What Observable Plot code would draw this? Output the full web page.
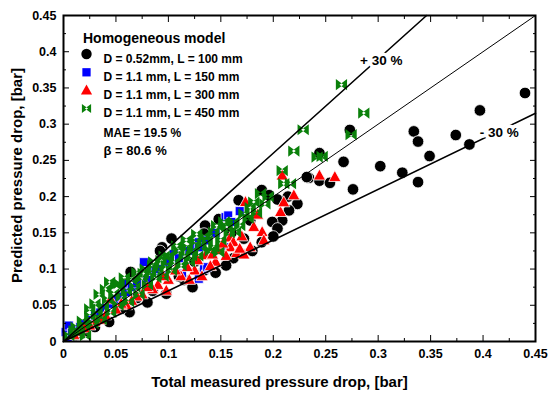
<!DOCTYPE html>
<html>
<head>
<meta charset="utf-8">
<script src="https://cdn.jsdelivr.net/npm/d3@7"></script>
<script src="https://cdn.jsdelivr.net/npm/@observablehq/plot@0.6"></script>
<style>
  html, body { margin: 0; padding: 0; background: #fff; }
  #chart { width: 550px; height: 396px; }
</style>
</head>
<body>
<div id="chart"></div>
<script>
// ---------- data ----------
const seriesNames = [
  "D = 0.52mm, L = 100 mm",
  "D = 1.1 mm, L = 150 mm",
  "D = 1.1 mm, L = 300 mm",
  "D = 1.1 mm, L = 450 mm"
];
const seriesColors = ["#000000", "#0000ff", "#ff0000", "#0a800a"];

const d052_L100 = [
  [0.440,0.343],[0.397,0.319],[0.374,0.285],[0.387,0.272],[0.334,0.290],[0.338,0.276],
  [0.349,0.256],[0.323,0.233],[0.338,0.220],[0.302,0.242],[0.273,0.292],[0.267,0.248],
  [0.276,0.210],[0.244,0.260],[0.234,0.226],[0.244,0.222],[0.254,0.219],[0.232,0.227],
  [0.223,0.190],[0.215,0.181],[0.2085,0.167],[0.199,0.165],[0.204,0.156],[0.189,0.137],
  [0.172,0.142],[0.167,0.195],[0.189,0.209],[0.196,0.202],[0.204,0.196],[0.178,0.167],
  [0.135,0.160],[0.134,0.149],[0.162,0.115],[0.148,0.169],[0.103,0.142],[0.094,0.130],
  [0.092,0.125],[0.123,0.075],[0.134,0.098],[0.098,0.066],[0.080,0.054],[0.063,0.0405],
  [0.0435,0.027],[0.064,0.096],[0.115,0.085],[0.155,0.105],[0.145,0.095],[0.030,0.020],
  [0.020,0.014],[0.012,0.009],[0.055,0.045],[0.070,0.060],[0.085,0.070],[0.110,0.090],
  [0.125,0.110],[0.180,0.125],[0.200,0.145],[0.214,0.200],[0.160,0.150]
];
const d11_L150 = [
  [0.002,0.013],[0.004,0.006],[0.005,0.022],[0.008,0.012],[0.012,0.016],[0.016,0.020],
  [0.020,0.024],[0.025,0.030],[0.030,0.036],[0.035,0.040],[0.040,0.046],[0.045,0.052],
  [0.050,0.058],[0.055,0.062],[0.060,0.068],[0.059,0.080],[0.065,0.075],[0.070,0.080],
  [0.0766,0.1095],[0.0877,0.098],[0.090,0.100],[0.100,0.110],[0.105,0.121],[0.113,0.0935],
  [0.120,0.125],[0.129,0.0866],[0.134,0.100],[0.129,0.137],[0.137,0.1395],[0.137,0.1026],
  [0.145,0.150],[0.1545,0.1717],[0.157,0.174],[0.156,0.130],[0.160,0.165],[0.110,0.115],
  [0.095,0.090],[0.080,0.085],[0.125,0.130],[0.168,0.180],[0.129,0.130]
];
const d11_L300 = [
  [0.2587,0.227],[0.244,0.229],[0.2085,0.229],[0.2196,0.2017],[0.1735,0.1924],[0.2069,0.1786],
  [0.1814,0.158],[0.1894,0.151],[0.191,0.1395],[0.159,0.1436],[0.162,0.137],[0.159,0.130],
  [0.165,0.122],[0.150,0.126],[0.155,0.118],[0.145,0.110],[0.1354,0.119],[0.140,0.104],
  [0.128,0.112],[0.125,0.098],[0.118,0.1026],[0.112,0.090],[0.1068,0.098],[0.100,0.085],
  [0.095,0.090],[0.090,0.078],[0.085,0.072],[0.0798,0.075],[0.075,0.065],[0.070,0.062],
  [0.065,0.056],[0.060,0.050],[0.055,0.052],[0.050,0.044],[0.045,0.058],[0.040,0.036],
  [0.035,0.030],[0.030,0.027],[0.025,0.022],[0.020,0.018],[0.015,0.013],[0.010,0.009],
  [0.170,0.145],[0.178,0.130],[0.132,0.090],[0.120,0.085],[0.098,0.070],[0.210,0.192],
  [0.185,0.175],[0.172,0.120],[0.152,0.135],[0.142,0.120],[0.168,0.128]
];
const d11_L450 = [
  [0.005,0.008],[0.010,0.015],[0.012,0.020],[0.015,0.012],[0.018,0.028],[0.020,0.022],
  [0.021,0.008],[0.025,0.035],[0.025,0.045],[0.028,0.025],[0.030,0.052],[0.032,0.038],
  [0.034,0.065],[0.036,0.030],[0.038,0.048],[0.040,0.072],[0.042,0.058],[0.044,0.082],
  [0.045,0.040],[0.048,0.066],[0.050,0.078],[0.052,0.050],[0.053,0.080],[0.055,0.062],
  [0.058,0.088],[0.060,0.070],[0.062,0.055],[0.065,0.085],[0.068,0.075],[0.070,0.095],
  [0.072,0.065],[0.075,0.088],[0.078,0.100],[0.080,0.078],[0.083,0.095],[0.085,0.105],
  [0.088,0.088],[0.090,0.100],[0.093,0.112],[0.095,0.090],[0.098,0.105],[0.100,0.118],
  [0.103,0.098],[0.106,0.110],[0.110,0.125],[0.112,0.105],[0.115,0.118],[0.118,0.130],
  [0.120,0.110],[0.123,0.125],[0.126,0.138],[0.128,0.118],[0.131,0.130],[0.134,0.145],
  [0.137,0.1395],[0.140,0.125],[0.1433,0.151],[0.1433,0.130],[0.148,0.1234],[0.150,0.140],
  [0.1528,0.165],[0.158,0.150],[0.1624,0.165],[0.164,0.151],[0.168,0.160],[0.172,0.1763],
  [0.176,0.170],[0.1814,0.1924],[0.1878,0.204],[0.195,0.200],[0.2085,0.236],[0.210,0.2178],
  [0.2164,0.2178],[0.2196,0.2629],[0.2285,0.2923],[0.2418,0.2546],[0.2466,0.2555],
  [0.2742,0.2855],[0.2863,0.3153],[0.265,0.3545],
  [0.108,0.132],[0.117,0.140],[0.127,0.148],[0.146,0.160],[0.156,0.158],[0.178,0.185],
  [0.184,0.178],[0.192,0.190],[0.122,0.118],[0.096,0.118],[0.086,0.110],[0.076,0.094]
];

const legendTitle = "Homogeneous model";
const statsLines = ["MAE = 19.5 %", "\u03b2 = 80.6 %"];

const refFactors = [1, 1.3, 0.7];          // y = k x reference lines
const refLabels = [
  {text: "+ 30 %", x: 0.303, y: 0.388},
  {text: "- 30 %", x: 0.4155, y: 0.288}
];

const axisMax = 0.45;
const majorTicks = [0, 0.05, 0.1, 0.15, 0.2, 0.25, 0.3, 0.35, 0.4, 0.45];
const minorTicks = [0.025, 0.075, 0.125, 0.175, 0.225, 0.275, 0.325, 0.375, 0.425];

const xLabel = "Total measured pressure drop, [bar]";
const yLabel = "Predicted pressure drop, [bar]";

// ---------- symbols ----------
const symCircle = {draw(ctx, size) { const r = Math.sqrt(size / Math.PI); ctx.moveTo(r, 0); ctx.arc(0, 0, r, 0, 2 * Math.PI); }};
const symSquare = {draw(ctx, size) { const r = Math.sqrt(size / Math.PI); const s = 1.8 * r; ctx.rect(-s / 2, -s / 2, s, s); }};
const symTriangle = {draw(ctx, size) {
  const r = Math.sqrt(size / Math.PI); const w = 2.1 * r, h = 1.9 * r;
  ctx.moveTo(0, -h * 0.6); ctx.lineTo(w / 2, h * 0.4); ctx.lineTo(-w / 2, h * 0.4); ctx.closePath();
}};
const symBowtie = {draw(ctx, size) {
  const r = Math.sqrt(size / Math.PI); const a = r, b = r, t = r * 0.35;
  ctx.moveTo(-a, -b); ctx.lineTo(t, 0); ctx.lineTo(-a, b); ctx.closePath();
  ctx.moveTo(a, -b); ctx.lineTo(-t, 0); ctx.lineTo(a, b); ctx.closePath();
}};
const seriesData = [d052_L100, d11_L150, d11_L300, d11_L450];
const seriesSymbols = [symCircle, symSquare, symTriangle, symBowtie];
const seriesR = [5.8, 5, 5.8, 5.6];
const legendR = [5.2, 4.6, 5.3, 4.6];
const seriesStroke = ["white", "white", "white", "none"];

const fmt = d => String(+d.toFixed(2));
const font = "'Liberation Sans', Arial, Helvetica, sans-serif";

const marks = [];
// data points
seriesData.forEach((data, i) => {
  marks.push(Plot.dot(data, {
    x: d => d[0], y: d => d[1], symbol: seriesSymbols[i], r: seriesR[i],
    fill: seriesColors[i], stroke: seriesStroke[i], strokeWidth: 0.8
  }));
});
// reference lines
refFactors.forEach(k => {
  const xe = Math.min(axisMax, axisMax / k);
  marks.push(Plot.line([0, xe], {x: d => d, y: d => k * d, stroke: "black", strokeWidth: k === 1 ? 1 : 1.6}));
});
marks.push(Plot.text(refLabels, {x: "x", y: "y", text: "text", fill: "black", stroke: "white", strokeWidth: 7,
  fontSize: 13.5, fontWeight: "bold"}));

// axes (ticks inward on all four sides)
marks.push(
  Plot.axisX(majorTicks, {anchor: "bottom", tickSize: -6, tickPadding: 14, tickFormat: fmt, fontSize: 12.5, fontWeight: "bold", label: null}),
  Plot.axisX(minorTicks, {anchor: "bottom", tickSize: -3, tickFormat: () => "", label: null}),
  Plot.axisX(majorTicks, {anchor: "top", tickSize: -6, tickFormat: () => "", label: null}),
  Plot.axisX(minorTicks, {anchor: "top", tickSize: -3, tickFormat: () => "", label: null}),
  Plot.axisY(majorTicks, {anchor: "left", tickSize: -6, tickPadding: 13, tickFormat: fmt, fontSize: 12.5, fontWeight: "bold", label: null}),
  Plot.axisY(minorTicks, {anchor: "left", tickSize: -3, tickFormat: () => "", label: null}),
  Plot.axisY(majorTicks, {anchor: "right", tickSize: -6, tickFormat: () => "", label: null}),
  Plot.axisY(minorTicks, {anchor: "right", tickSize: -3, tickFormat: () => "", label: null}),
  Plot.frame({stroke: "black", strokeWidth: 2})
);

// axis titles
marks.push(
  Plot.text([xLabel], {frameAnchor: "bottom", dx: -20, dy: 45, fontSize: 15, fontWeight: "bold", fill: "black"}),
  Plot.text([yLabel], {frameAnchor: "left", textAnchor: "middle", dx: -46, dy: -3, rotate: -90, fontSize: 15, fontWeight: "bold", fill: "black"})
);

// legend inside the frame
marks.push(Plot.text([legendTitle], {frameAnchor: "top-left", dx: 19.5, dy: 18, textAnchor: "start", fontSize: 14, fontWeight: "bold", fill: "black"}));
const legendRowDy = [38.5, 56.8, 75, 93];
seriesNames.forEach((name, i) => {
  marks.push(
    Plot.dot([name], {frameAnchor: "top-left", dx: 23, dy: legendRowDy[i], symbol: seriesSymbols[i], r: legendR[i],
      fill: seriesColors[i], stroke: "none"}),
    Plot.text([name], {frameAnchor: "top-left", dx: 40, dy: legendRowDy[i], textAnchor: "start", fontSize: 12, fontWeight: "bold", fill: "black"})
  );
});
const statsDy = [113, 130];
statsLines.forEach((s, i) => {
  marks.push(Plot.text([s], {frameAnchor: "top-left", dx: 40, dy: statsDy[i], textAnchor: "start", fontSize: i === 0 ? 12 : 13, fontWeight: "bold", fill: "black"}));
});

const chart = Plot.plot({
  width: 550, height: 396,
  marginLeft: 63, marginRight: 15, marginTop: 15, marginBottom: 55,
  x: {domain: [0, axisMax]},
  y: {domain: [0, axisMax]},
  style: {fontFamily: font, fontSize: "12px", color: "black", background: "white", overflow: "visible"},
  marks
});
document.getElementById("chart").append(chart);
</script>
</body>
</html>
